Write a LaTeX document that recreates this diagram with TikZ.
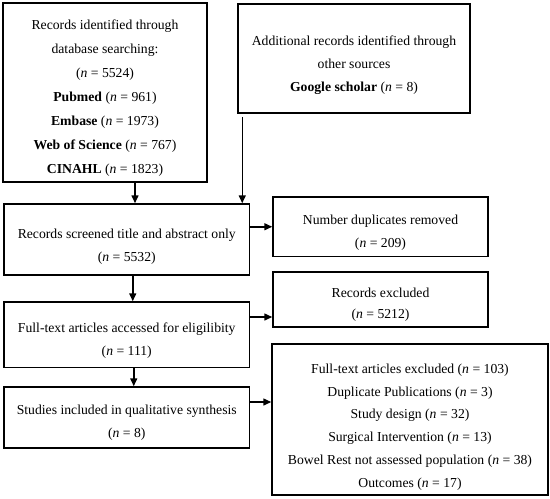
\documentclass[tikz,border=0pt]{standalone}
\usepackage{fontspec}
\setmainfont{Liberation Serif}
\usetikzlibrary{arrows.meta}
\newcommand\Nn{\textit{n}}
\tikzset{
  box/.style={draw, line width=1.5pt, inner sep=0pt},
  txt/.style={inner sep=0pt, align=center, font=\fontsize{13.7}{23}\selectfont},
  arr/.style={line width=1.5pt, -{Triangle[length=8pt,width=7pt]}}
}
\begin{document}
\begin{tikzpicture}[x=1pt,y=-1pt]
\useasboundingbox (0,0) rectangle (550,499);
% boxes
\node[box, minimum width=204pt, minimum height=179pt] (b1) at (105,92.5) {};
\node[box, minimum width=232pt, minimum height=109pt] (b2) at (354,58.5) {};
\node[box, minimum width=245.5pt, minimum height=71pt] (b3) at (126.75,239.5) {};
\node[box, minimum width=215pt, minimum height=59.5pt] (b4) at (380.5,226.75) {};
\node[box, minimum width=245.5pt, minimum height=65.5pt] (b5) at (126.75,334.75) {};
\node[box, minimum width=215pt, minimum height=55pt] (b6) at (380.5,299.5) {};
\node[box, minimum width=245.5pt, minimum height=61pt] (b7) at (126.75,417.5) {};
\node[box, minimum width=276pt, minimum height=151pt] (b8) at (410,419.5) {};
% texts
\node[txt, font=\fontsize{13.7}{24}\selectfont] (t1) at ([yshift=-6pt]b1.center)
  {Records identified through\\database searching:\\(\Nn{} = 5524)\\\textbf{Pubmed} (\Nn{} = 961)\\\textbf{Embase} (\Nn{} = 1973)\\\textbf{Web of Science} (\Nn{} = 767)\\\textbf{CINAHL} (\Nn{} = 1823)};
\node[txt] (t2) at ([yshift=-6.5pt]b2.center)
  {Additional records identified through\\other sources\\\textbf{Google scholar} (\Nn{} = 8)};
\node[txt] (t3) at ([yshift=-7.5pt]b3.center)
  {Records screened title and abstract only\\(\Nn{} = 5532)};
\node[txt] (t4) at ([yshift=-5.5pt]b4.center)
  {Number duplicates removed\\(\Nn{} = 209)};
\node[txt] (t5) at ([yshift=-5.75pt]b5.center)
  {Full-text articles accessed for eligilibity\\(\Nn{} = 111)};
\node[txt, font=\fontsize{13.7}{21.5}\selectfont] (t6) at ([yshift=-5pt]b6.center)
  {Records excluded\\(\Nn{} = 5212)};
\node[txt] (t7) at ([yshift=-5.5pt]b7.center)
  {Studies included in qualitative synthesis\\(\Nn{} = 8)};
\node[txt, font=\fontsize{13.7}{22.8}\selectfont] (t8) at ([yshift=-7.5pt]b8.center)
  {Full-text articles excluded (\Nn{} = 103)\\Duplicate Publications (\Nn{} = 3)\\Study design (\Nn{} = 32)\\Surgical Intervention (\Nn{} = 13)\\Bowel Rest not assessed population (\Nn{} = 38)\\Outcomes (\Nn{} = 17)};
% vertical arrows
\draw[arr] ([xshift=30pt]b1.south) -- ([xshift=30pt]b1.south |- b3.north);
\draw[arr] ([xshift=5pt,yshift=-3pt]b2.south west) -- ([xshift=5pt]b2.south west |- b3.north);
\draw[arr] ([xshift=6pt]b3.south) -- ([xshift=6pt]b3.south |- b5.north);
\draw[arr] ([xshift=7pt]b5.south) -- ([xshift=7pt]b5.south |- b7.north);
% horizontal arrows
\draw[arr] (b3.east |- b4.west) -- (b4.west);
\draw[arr] ([yshift=-17.5pt]b6.west -| b5.east) -- ([yshift=-17.5pt]b6.west);
\draw[arr] ([yshift=17.5pt]b8.west -| b7.east) -- ([yshift=17.5pt]b8.west);
\end{tikzpicture}
\end{document}
